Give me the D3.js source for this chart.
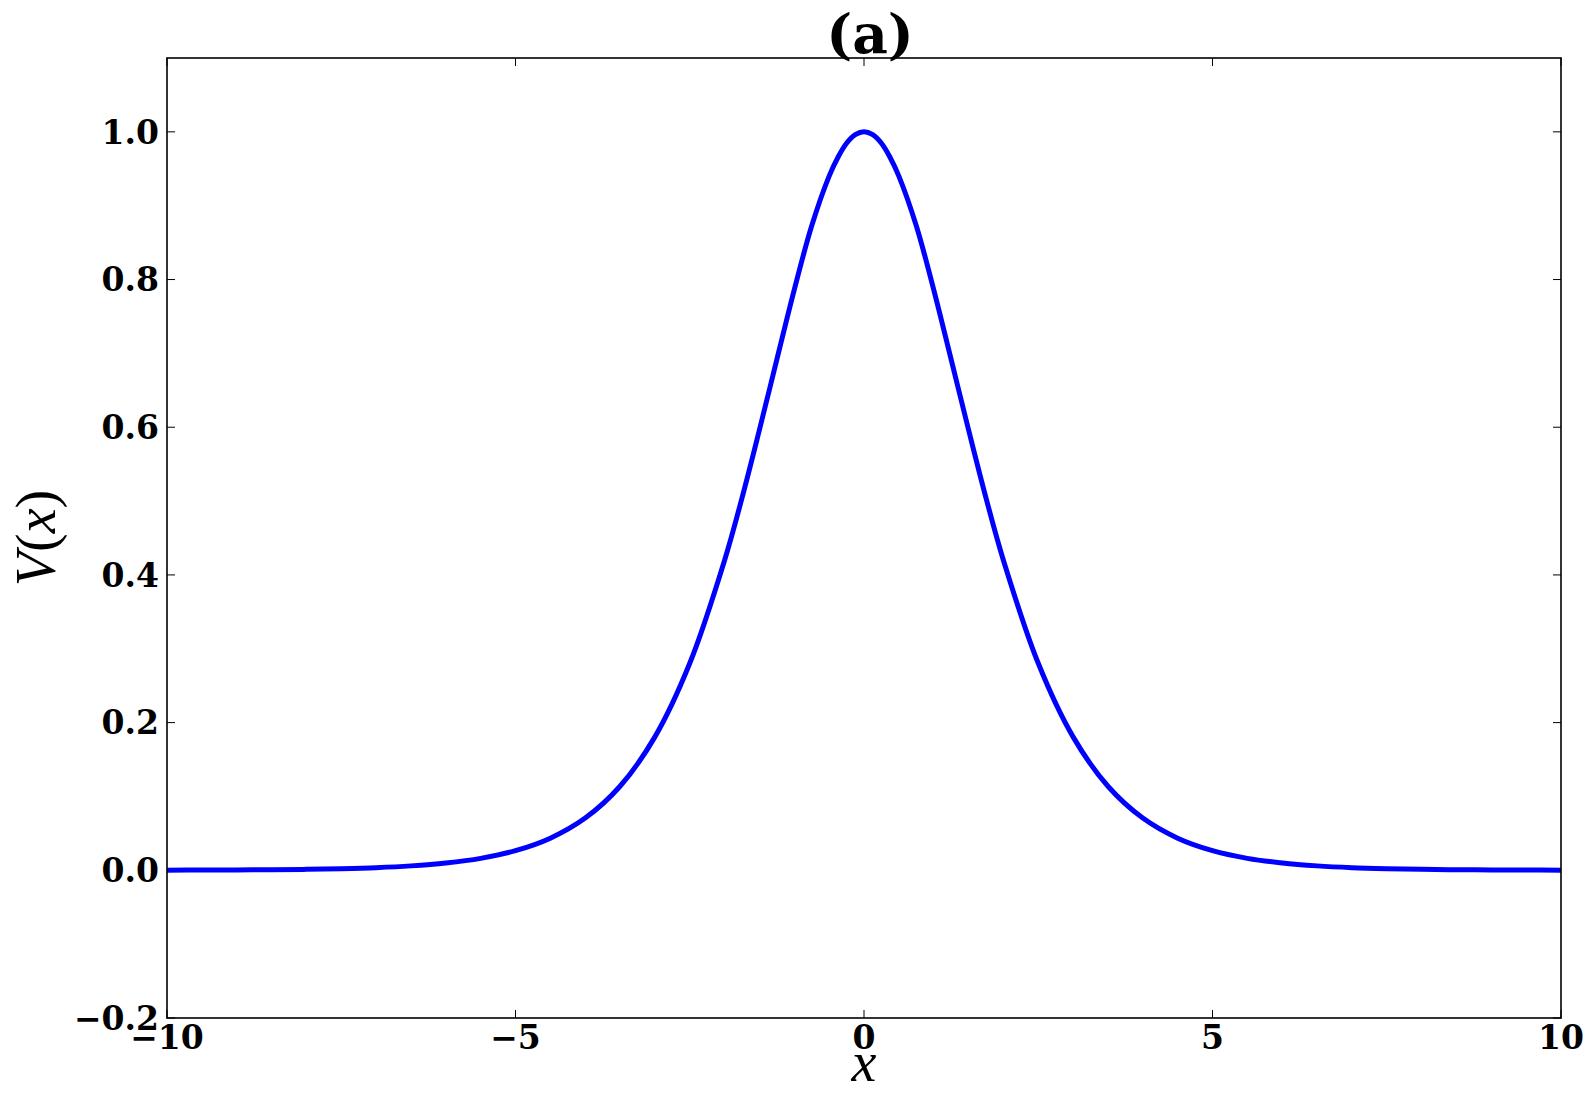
<!DOCTYPE html>
<html><head><meta charset="utf-8">
<script src="https://cdn.jsdelivr.net/npm/d3@7"></script>
<style>body{margin:0;background:#fff}svg{display:block}</style>
</head><body>
<script>
const xValues = [-10,-9.5,-9,-8.5,-8,-7.5,-7,-6.5,-6,-5.5,-5,-4.5,-4,-3.5,-3,-2.5,-2,-1.75,-1.5,-1.25,-1,-0.75,-0.5,-0.375,-0.25,-0.125,0,0.125,0.25,0.375,0.5,0.75,1,1.25,1.5,1.75,2,2.5,3,3.5,4,4.5,5,5.5,6,6.5,7,7.5,8,8.5,9,9.5,10];
const vValues = [0.0002,0.0003,0.0005,0.0008,0.0013,0.0022,0.0036,0.006,0.0099,0.0162,0.0266,0.0435,0.0707,0.1138,0.1807,0.2804,0.42,0.5044,0.5966,0.6918,0.7864,0.8728,0.94,0.9653,0.9845,0.9961,1.0,0.9961,0.9845,0.9653,0.94,0.8728,0.7864,0.6918,0.5966,0.5044,0.42,0.2804,0.1807,0.1138,0.0707,0.0435,0.0266,0.0162,0.0099,0.006,0.0036,0.0022,0.0013,0.0008,0.0005,0.0003,0.0002];
const xTicks = [-10,-5,0,5,10];
const yTicks = [-0.2,0.0,0.2,0.4,0.6,0.8,1.0];
const titleText = "(a)";

const W=1592,H=1093;
const m={l:167,r:1561,t:58,b:1018};
const svg=d3.select("body").append("svg").attr("width",W).attr("height",H);
const x=d3.scaleLinear().domain([-10,10]).range([m.l,m.r]);
const y=d3.scaleLinear().domain([-0.2,1.1]).range([m.b,m.t]);
const font="'DejaVu Serif', serif";
const mathFont="'Liberation Serif', 'Times New Roman', serif";
const fmtY=d=>(d<0?"\u2212":"")+Math.abs(d).toFixed(1);
const fmtX=d=>(d<0?"\u2212":"")+Math.abs(d);

// ticks (inside, all sides)
const tl=8;
const tg=svg.append("g").attr("stroke","#000").attr("stroke-width",1);
xTicks.forEach(d=>{
  tg.append("line").attr("x1",x(d)).attr("x2",x(d)).attr("y1",m.b).attr("y2",m.b-tl);
  tg.append("line").attr("x1",x(d)).attr("x2",x(d)).attr("y1",m.t).attr("y2",m.t+tl);
});
yTicks.forEach(d=>{
  tg.append("line").attr("y1",y(d)).attr("y2",y(d)).attr("x1",m.l).attr("x2",m.l+tl);
  tg.append("line").attr("y1",y(d)).attr("y2",y(d)).attr("x1",m.r).attr("x2",m.r-tl);
});

// curve
const pts=xValues.map((v,i)=>[v,vValues[i]]);
svg.append("path").datum(pts).attr("fill","none").attr("stroke","#0000ff").attr("stroke-width",5)
  .attr("stroke-linejoin","round")
  .attr("d",d3.line().x(d=>x(d[0])).y(d=>y(d[1])).curve(d3.curveCatmullRom));

// frame
svg.append("rect").attr("x",m.l).attr("y",m.t).attr("width",m.r-m.l).attr("height",m.b-m.t)
  .attr("fill","none").attr("stroke","#000").attr("stroke-width",1.6);

// tick labels
svg.append("g").selectAll("text").data(xTicks).join("text")
  .attr("x",d=>x(d)).attr("y",1049).attr("text-anchor","middle")
  .attr("font-family",font).attr("font-weight","bold").attr("font-size",33)
  .text(fmtX);
svg.append("g").selectAll("text").data(yTicks).join("text")
  .attr("x",159).attr("y",d=>y(d)).attr("dy","0.36em").attr("text-anchor","end")
  .attr("font-family",font).attr("font-weight","bold").attr("font-size",33)
  .text(fmtY);

// title
svg.append("text").attr("x",(m.l+m.r)/2+6).attr("y",53).attr("text-anchor","middle")
  .attr("font-family",font).attr("font-weight","bold").attr("font-size",55).text(titleText);

// axis labels
svg.append("text").attr("x",(m.l+m.r)/2).attr("y",1081).attr("text-anchor","middle")
  .attr("font-family",mathFont).attr("font-size",56).attr("font-style","italic").text("x");
const yl=svg.append("text").attr("transform",`translate(55,${(m.t+m.b)/2}) rotate(-90)`).attr("text-anchor","middle")
  .attr("font-family",mathFont).attr("font-size",56);
yl.append("tspan").attr("font-style","italic").text("V");
yl.append("tspan").text("(");
yl.append("tspan").attr("font-style","italic").text("x");
yl.append("tspan").text(")");
</script>
</body></html>
